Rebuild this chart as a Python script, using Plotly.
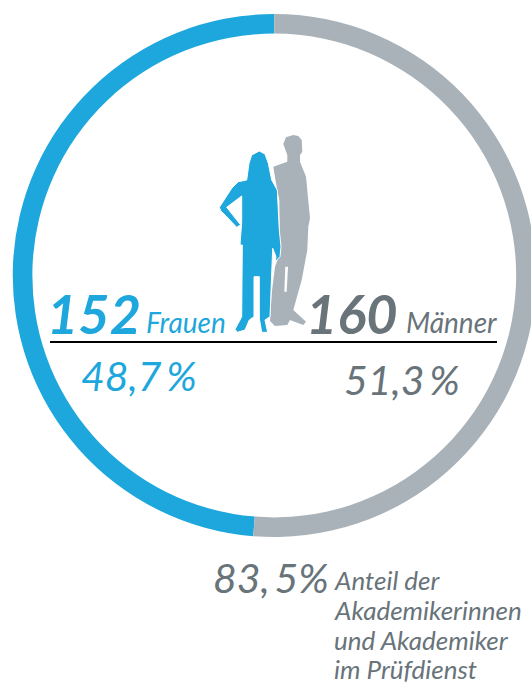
import plotly.graph_objects as go

W, H = 531, 682
FIG_W = 560  # ring runs slightly past the window's right edge
labels = ["Frauen", "Männer"]
counts = [152, 160]
shares = ["48,7\u2009%", "51,3\u2009%"]
BLUE, GRAY, DARK = "#1ea7dc", "#a9b2b9", "#68737a"
FONT = "Lato"


def px(x):
    return x / FIG_W


def py(y):
    return 1 - y / H


def path(pts):
    return "M" + " L".join(f"{200 + x / 3:.1f},{120 + y / 3:.1f}" for x, y in pts) + " Z"


man = [(280,45),(258,52),(250,72),(262,105),(262,125),(220,140),(228,190),(238,240),(240,400),(225,440),(215,520),(210,603),
       (225,618),(262,615),(270,600),(310,615),(318,605),(280,570),(305,480),(322,390),(325,320),(330,295),(318,170),
       (300,125),(300,105),(307,95),(305,60),(295,48)]
slit = [(256,440),(264,440),(260,515),(253,515)]
woman = [(178,93),(155,105),(147,130),(140,180),(115,185),(95,205),(58,262),(62,272),(75,285),(110,322),(122,315),
         (80,262),(125,228),(125,305),(120,375),(127,375),(125,590),(120,600),(105,628),(112,637),(135,630),
         (148,600),(162,590),(162,470),(178,470),(178,595),(185,637),(203,637),(195,600),(210,590),(218,385),(228,410),
         (225,425),(240,410),(243,380),(238,330),(232,210),(215,180),(205,130),(195,102)]

fig = go.Figure(go.Pie(
    labels=labels, values=counts, hole=0.925, sort=False, direction="clockwise", rotation=-(counts[0] / sum(counts)) * 360,
    marker=dict(colors=[BLUE, GRAY], line=dict(width=0)), textinfo="none", hoverinfo="label+value",
    domain=dict(x=[px(12.5), px(536)], y=[py(537), py(14)]), showlegend=False,
))


def txt(x, y, s, size, color, anchor="left", bold=False):
    fig.add_annotation(
        x=x, y=y, xref="x", yref="y", text=f"<b><i>{s}</i></b>" if bold else f"<i>{s}</i>", showarrow=False,
        xanchor=anchor, yanchor="middle", align="left", font=dict(family=FONT, size=size, color=color),
    )


txt(45, 313, counts[0], 54, BLUE, bold=True)
txt(144, 322, labels[0], 28, BLUE)
txt(304, 313, counts[1], 54, DARK, bold=True)
txt(404, 322, labels[1], 28, DARK)
txt(79, 375, shares[0], 41, BLUE)
txt(342, 379, shares[1], 41, DARK)
txt(211, 577, "83,\u20095%", 41, DARK)
txt(332, 580, "Anteil der", 26, DARK)
txt(332, 610, "Akademikerinnen", 26, DARK)
txt(332, 640, "und Akademiker", 26, DARK)
txt(332, 669, "im Prüfdienst", 26, DARK)

fig.add_shape(type="path", xref="x", yref="y", path=path(man) + path(slit), fillcolor=GRAY, line=dict(width=0), layer="above")
fig.add_shape(type="path", xref="x", yref="y", path=path(woman), fillcolor=BLUE, line=dict(color="white", width=1), layer="above")
fig.add_shape(type="line", xref="x", yref="y", x0=50, x1=497, y0=342, y1=342, line=dict(color="black", width=2.2), layer="above")

fig.update_layout(
    width=FIG_W, height=H, margin=dict(l=0, r=0, t=0, b=0), paper_bgcolor="white", plot_bgcolor="rgba(0,0,0,0)",
    xaxis=dict(range=[0, FIG_W], visible=False, fixedrange=True),
    yaxis=dict(range=[H, 0], visible=False, fixedrange=True),
)
fig.write_html("out.html", config=dict(displayModeBar=False),
               post_script="document.documentElement.style.overflow='hidden';document.body.style.overflow='hidden';document.body.style.margin='0';")
